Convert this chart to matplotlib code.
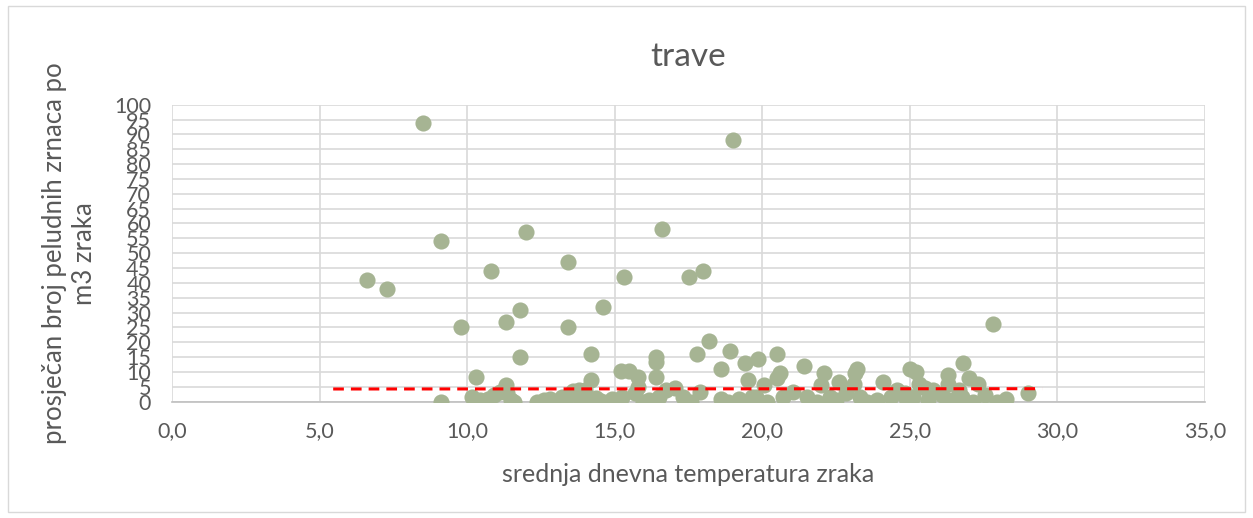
import numpy as np
import matplotlib
matplotlib.use("Agg")
import matplotlib.pyplot as plt
from matplotlib.patches import Rectangle

plt.rcParams['font.family'] = ['Lato', 'DejaVu Sans']

# srednja dnevna temperatura zraka / prosjecan broj peludnih zrnaca
temp_gore = [6.6, 7.3, 8.5, 9.1, 9.8, 10.8, 12.0, 13.4, 15.3, 16.6, 17.5, 18.0, 19.0,
             11.3, 11.8, 13.4, 14.6, 27.8, 18.2]
pelud_gore = [41.0, 38.0, 94.0, 54.0, 25.0, 44.0, 57.0, 47.0, 42.0, 58.0, 42.0, 44.0, 88.0,
              27.0, 31.0, 25.0, 32.0, 26.0, 20.5]

temp_sred = [11.8, 14.2, 17.8, 18.9, 16.4, 16.4, 18.6, 19.4, 19.85, 20.5, 21.4, 20.6, 20.5,
             22.1, 23.2, 23.15, 25.0, 26.8, 25.2, 26.3, 27.0, 27.3, 26.3, 25.3, 22.0, 22.6,
             23.1, 24.1, 19.5, 20.05, 15.2, 15.5, 15.8, 16.4, 15.8, 15.7, 10.3, 14.2, 11.3, 13.8]
pelud_sred = [15.0, 16.0, 16.0, 17.0, 15.0, 13.5, 11.0, 13.0, 14.3, 16.0, 12.0, 9.5, 8.0,
              9.5, 11.0, 9.8, 11.0, 13.0, 10.0, 9.0, 8.0, 6.0, 6.0, 6.0, 5.5, 6.5,
              6.0, 6.5, 7.3, 5.5, 10.5, 10.5, 8.4, 8.3, 5.0, 2.8, 8.2, 7.3, 5.5, 3.9]

temp_dolje = [9.1, 10.15, 10.45, 10.7, 10.9, 11.1, 11.35, 11.5, 11.6, 12.35, 12.6, 12.8, 13.0,
              13.2, 13.5, 13.6, 14.0, 13.85, 14.3, 14.35, 14.55, 14.9, 15.25, 15.95, 16.15,
              16.5, 16.75, 17.05, 17.3, 17.6, 17.9, 18.6, 18.85, 19.2, 19.3, 19.65, 19.8,
              20.15, 20.7, 21.05, 21.5, 21.85, 22.3, 22.5, 22.85, 23.3, 23.55, 23.9, 24.35,
              24.55, 24.8, 24.9, 24.85, 25.1, 25.6, 25.5, 25.8, 26.1, 26.4, 26.65, 26.75,
              27.15, 27.55, 27.95, 28.25, 29.0]
pelud_dolje = [0.0, 1.7, 0.5, 1.0, 2.3, 3.4, 2.8, 0.6, 0.0, 0.0, 0.5, 1.0, 0.0,
               1.7, 2.3, 3.5, 3.8, 0.0, 0.6, 1.1, 0.3, 1.0, 1.7, 0.0, 0.5,
               1.7, 3.9, 4.5, 1.7, 0.0, 3.4, 1.0, 0.0, 1.0, 0.0, 1.7, 1.7,
               0.0, 1.7, 3.4, 1.7, 0.0, 1.7, 0.5, 2.8, 1.7, 0.0, 0.5, 1.7,
               3.9, 2.3, 0.0, 2.8, 1.7, 0.5, 4.5, 3.9, 2.3, 0.5, 3.9, 1.7,
               0.0, 2.3, 0.0, 1.0, 2.8]

# linearni trend
trend_x = [5.46, 29.48]
trend_y = [4.28, 4.38]

x = temp_gore + temp_sred + temp_dolje
y = pelud_gore + pelud_sred + pelud_dolje

fig = plt.figure(figsize=(12.53, 5.18), dpi=100)
fig.patches.append(Rectangle((0.006, 0.012), 0.988, 0.976, transform=fig.transFigure,
                             fill=False, edgecolor='#D9D9D9', linewidth=1.0))
ax = fig.add_axes([0.1373, 0.2245, 0.8244, 0.5734])

ax.scatter(x, y, s=135, color='#A6B493', linewidths=0, zorder=3)
ax.plot(trend_x, trend_y, color='#FF0000', linewidth=2.2, dashes=(3.5, 2.3), zorder=4)

ax.set_xlim(0, 35)
ax.set_ylim(0, 100)
ax.set_xticks(np.arange(0, 36, 5))
ax.set_xticklabels([('%.1f' % v).replace('.', ',') for v in np.arange(0, 36, 5)])
ax.set_yticks(np.arange(0, 101, 5))
ax.grid(True, color='#D9D9D9', linewidth=1.2, zorder=0)
ax.set_axisbelow(True)
for s in ['top', 'right', 'left']:
    ax.spines[s].set_visible(False)
ax.spines['bottom'].set_color('#BFBFBF')
ax.spines['bottom'].set_linewidth(1.2)
ax.tick_params(axis='both', length=0, labelsize=15.5, colors='#595959')
ax.tick_params(axis='y', pad=15)
ax.tick_params(axis='x', pad=14)

ax.set_title('trave', fontsize=24, color='#595959', pad=28)
ax.set_xlabel('srednja dnevna temperatura zraka', fontsize=18, color='#595959', labelpad=16)
ax.set_ylabel('prosječan broj peludnih zrnaca po\nm3 zraka', fontsize=18.5, color='#595959',
              labelpad=12, linespacing=1.25)

plt.savefig('out.png', dpi=100)
